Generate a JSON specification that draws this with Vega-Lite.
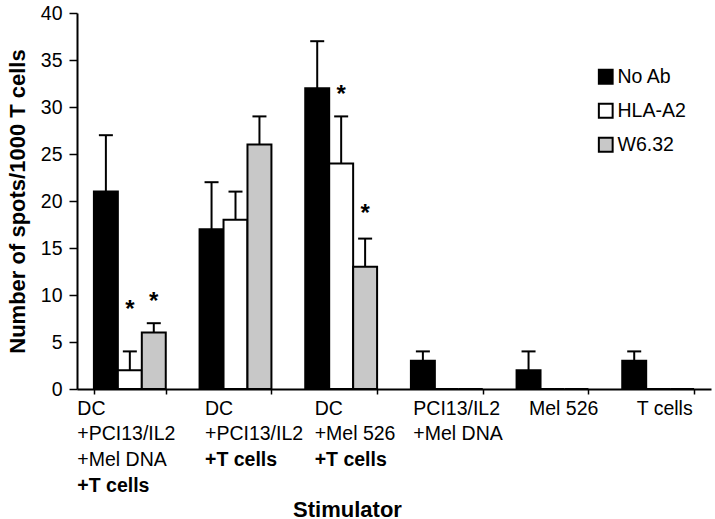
{
  "$schema": "https://vega.github.io/schema/vega-lite/v6.json",
  "width": 634,
  "height": 376,
  "autosize": {"type": "none"},
  "padding": {"left": 77, "top": 13, "right": 4, "bottom": 130},
  "background": "white",
  "config": {"view": {"stroke": null}, "font": "Liberation Sans"},
  "data": {
    "values": [
      {"stim": "DC|+PCI13/IL2|+Mel DNA|+T cells", "ab": "No Ab", "value": 21, "hi": 27},
      {"stim": "DC|+PCI13/IL2|+Mel DNA|+T cells", "ab": "HLA-A2", "value": 2, "hi": 4, "star": 8.4},
      {"stim": "DC|+PCI13/IL2|+Mel DNA|+T cells", "ab": "W6.32", "value": 6, "hi": 7, "star": 9.3},
      {"stim": "DC|+PCI13/IL2|+T cells", "ab": "No Ab", "value": 17, "hi": 22},
      {"stim": "DC|+PCI13/IL2|+T cells", "ab": "HLA-A2", "value": 18, "hi": 21},
      {"stim": "DC|+PCI13/IL2|+T cells", "ab": "W6.32", "value": 26, "hi": 29},
      {"stim": "DC|+Mel 526|+T cells", "ab": "No Ab", "value": 32, "hi": 37},
      {"stim": "DC|+Mel 526|+T cells", "ab": "HLA-A2", "value": 24, "hi": 29, "star": 31.3},
      {"stim": "DC|+Mel 526|+T cells", "ab": "W6.32", "value": 13, "hi": 16, "star": 18.6},
      {"stim": "PCI13/IL2|+Mel DNA", "ab": "No Ab", "value": 3, "hi": 4},
      {"stim": "PCI13/IL2|+Mel DNA", "ab": "HLA-A2", "value": 0, "hi": 0},
      {"stim": "PCI13/IL2|+Mel DNA", "ab": "W6.32", "value": 0, "hi": 0},
      {"stim": "Mel 526", "ab": "No Ab", "value": 2, "hi": 4},
      {"stim": "Mel 526", "ab": "HLA-A2", "value": 0, "hi": 0},
      {"stim": "Mel 526", "ab": "W6.32", "value": 0, "hi": 0},
      {"stim": "T cells", "ab": "No Ab", "value": 3, "hi": 4},
      {"stim": "T cells", "ab": "HLA-A2", "value": 0, "hi": 0},
      {"stim": "T cells", "ab": "W6.32", "value": 0, "hi": 0}
    ]
  },
  "layer": [
    {
      "mark": {"type": "bar", "stroke": "black", "strokeWidth": 2},
      "encoding": {
        "x": {
          "field": "stim", "type": "nominal",
          "scale": {"domain": ["DC|+PCI13/IL2|+Mel DNA|+T cells", "DC|+PCI13/IL2|+T cells", "DC|+Mel 526|+T cells", "PCI13/IL2|+Mel DNA", "Mel 526", "T cells"], "paddingInner": 0.32, "paddingOuter": 0.16},
          "axis": {
            "orient": "bottom",
            "title": "Stimulator",
            "titleFontSize": 22, "titleFontWeight": "bold", "titleColor": "black",
            "titleX": 270, "titleY": 110, "titleBaseline": "top", "titleAlign": "center", "titleAnchor": "start",
            "labelAngle": 0, "labelAlign": "left", "labelBaseline": "top",
            "labelFontSize": 19.5, "labelLineHeight": 25.7, "labelPadding": 5, "labelColor": "black",
            "labelOverlap": false, "labelBound": false, "labelLimit": 0,
            "tickSize": 5, "tickBand": "extent", "tickColor": "black", "tickWidth": 1.5,
            "domainColor": "black", "domainWidth": 2,
            "labelExpr": "isValid(datum.value) ? split(replace(datum.value, '+T cells', ''), '|') : ''",
            "labelOffset": {
              "condition": [
                {"test": "datum.value == 'DC|+PCI13/IL2|+Mel DNA|+T cells'", "value": -53},
                {"test": "datum.value == 'DC|+PCI13/IL2|+T cells'", "value": -31},
                {"test": "datum.value == 'DC|+Mel 526|+T cells'", "value": -27},
                {"test": "datum.value == 'PCI13/IL2|+Mel DNA'", "value": -34},
                {"test": "datum.value == 'Mel 526'", "value": -24}
              ],
              "value": -22
            }
          }
        },
        "xOffset": {"field": "ab", "type": "nominal", "scale": {"domain": ["No Ab", "HLA-A2", "W6.32"], "paddingInner": 0, "paddingOuter": 0}},
        "y": {
          "field": "value", "type": "quantitative", "title": "Number of spots/1000 T cells",
          "scale": {"domain": [0, 40], "nice": false},
          "axis": {
            "values": [0, 5, 10, 15, 20, 25, 30, 35, 40],
            "grid": false, "tickSize": 8, "tickColor": "black", "tickWidth": 1.5,
            "domainColor": "black", "domainWidth": 2,
            "labelFontSize": 19.5, "labelColor": "black", "labelPadding": 7,
            "titleFontSize": 22, "titleFontWeight": "bold", "titleColor": "black", "titlePadding": 11
          }
        },
        "color": {
          "field": "ab", "type": "nominal",
          "scale": {"domain": ["No Ab", "HLA-A2", "W6.32"], "range": ["#000000", "#ffffff", "#c8c8c8"]},
          "legend": {
            "title": null, "orient": "none", "legendX": 519, "legendY": 54,
            "symbolType": "square", "symbolSize": 190, "symbolStrokeColor": "black", "symbolStrokeWidth": 2,
            "symbolOpacity": 1,
            "labelFontSize": 19.5, "labelColor": "black", "labelOffset": 2, "rowPadding": 11, "padding": 0
          }
        }
      }
    },
    {
      "transform": [{"filter": "datum.hi > datum.value"}],
      "mark": {"type": "rule", "strokeWidth": 2, "color": "black"},
      "encoding": {
        "x": {
          "field": "stim", "type": "nominal",
          "axis": {
            "orient": "bottom",
            "title": null,
            "labelAngle": 0, "labelAlign": "left", "labelBaseline": "top",
            "labelFontSize": 19.5, "labelFontWeight": "bold", "labelColor": "black",
            "labelOverlap": false, "labelBound": false, "labelLimit": 0,
            "tickSize": 5, "tickBand": "extent", "tickOpacity": 0,
            "domainOpacity": 0,
            "labelExpr": "isValid(datum.value) && indexof(datum.value, '+T cells') > 0 ? '+T cells' : ''",
            "labelPadding": {
              "condition": {"test": "datum.value == 'DC|+PCI13/IL2|+Mel DNA|+T cells'", "value": 82.1},
              "value": 56.4
            },
            "labelOffset": {
              "condition": [
                {"test": "datum.value == 'DC|+PCI13/IL2|+Mel DNA|+T cells'", "value": -53},
                {"test": "datum.value == 'DC|+PCI13/IL2|+T cells'", "value": -31},
                {"test": "datum.value == 'DC|+Mel 526|+T cells'", "value": -27}
              ],
              "value": -22
            }
          }
        },
        "xOffset": {"field": "ab", "type": "nominal"},
        "y": {"field": "value", "type": "quantitative", "title": "Number of spots/1000 T cells"},
        "y2": {"field": "hi"}
      }
    },
    {
      "transform": [{"filter": "datum.hi > datum.value"}],
      "mark": {"type": "tick", "thickness": 2, "size": 14, "color": "black", "opacity": 1},
      "encoding": {
        "x": {"field": "stim", "type": "nominal", "axis": null},
        "xOffset": {"field": "ab", "type": "nominal"},
        "y": {"field": "hi", "type": "quantitative", "title": "Number of spots/1000 T cells"}
      }
    },
    {
      "transform": [{"filter": "isValid(datum.star)"}],
      "mark": {"type": "text", "text": "*", "fontSize": 24, "fontWeight": "bold", "baseline": "middle", "align": "center", "color": "black"},
      "encoding": {
        "x": {"field": "stim", "type": "nominal", "axis": null},
        "xOffset": {"field": "ab", "type": "nominal"},
        "y": {"field": "star", "type": "quantitative", "title": "Number of spots/1000 T cells"}
      }
    }
  ],
  "resolve": {"axis": {"x": "independent"}}
}
